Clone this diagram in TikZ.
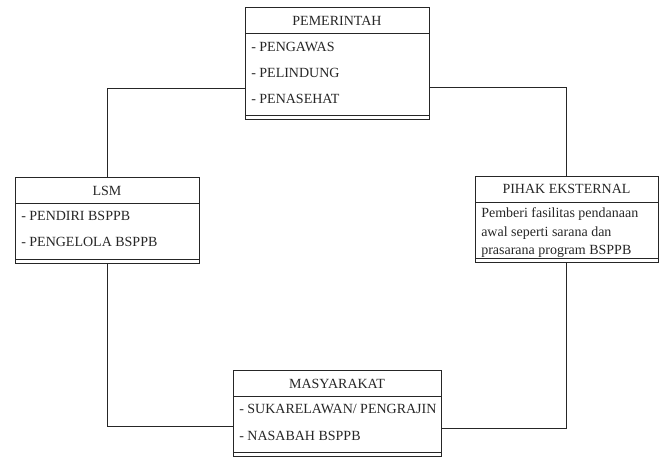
\documentclass[tikz,border=0pt]{standalone}
\usepackage{fontspec}
\setmainfont{Liberation Serif}
\usetikzlibrary{fit}
\begin{document}
\begin{tikzpicture}[x=0.75pt,y=-0.75pt,
  box/.style={draw=black!85, line width=0.7pt, inner sep=0pt},
  sep/.style={draw=black!85, line width=0.7pt},
  conn/.style={draw=black!85, line width=0.7pt},
  title/.style={inner sep=0pt, font=\fontsize{10.5}{11}\selectfont, text=black!85},
  item/.style={inner sep=0pt, anchor=west, font=\fontsize{10.5}{11}\selectfont, text=black!85}]
\useasboundingbox (0,0) rectangle (661,458);
% PEMERINTAH
\node[box, fit={(245,7) (429,119)}] (pem) {};
\draw[sep] (245,33) -- (429,33);
\draw[sep] (245,115) -- (429,115);
\node[title] (pemt) at (337,20.5) {PEMERINTAH};
\node[item] (pem1) at (251,46.5) {- PENGAWAS};
\node[item] (pem2) at (251,72.5) {- PELINDUNG};
\node[item] (pem3) at (251,98.5) {- PENASEHAT};
% LSM
\node[box, fit={(15,177) (199,263)}] (lsm) {};
\draw[sep] (15,203) -- (199,203);
\draw[sep] (15,259) -- (199,259);
\node[title] (lsmt) at (107,190.5) {LSM};
\node[item] (lsm1) at (21,215.5) {- PENDIRI BSPPB};
\node[item] (lsm2) at (21,242) {- PENGELOLA BSPPB};
% PIHAK EKSTERNAL
\node[box, fit={(475,176) (658,262)}] (pih) {};
\draw[sep] (475,202) -- (658,202);
\draw[sep] (475,258) -- (658,258);
\node[title] (piht) at (566.5,189) {PIHAK EKSTERNAL};
\node[inner sep=0pt, anchor=north west, align=left, font=\fontsize{10.5}{14.2}\selectfont, text=black!85] (pihx) at (481,207)
  {Pemberi fasilitas pendanaan\\awal seperti sarana dan\\prasarana program BSPPB};
% MASYARAKAT
\node[box, fit={(233,370) (441,456)}] (mas) {};
\draw[sep] (233,396) -- (441,396);
\draw[sep] (233,452) -- (441,452);
\node[title] (mast) at (337,383.5) {MASYARAKAT};
\node[item] (mas1) at (239,409) {- SUKARELAWAN/ PENGRAJIN};
\node[item] (mas2) at (239,436) {- NASABAH BSPPB};
% connectors
\coordinate (ly) at (0,88);
\coordinate (ry) at (0,87.3);
\coordinate (lb) at (0,426.7);
\coordinate (rb) at (0,428);
\draw[conn] (lsm.north) |- (pem.west |- ly);
\draw[conn] (pih.north) |- (pem.east |- ry);
\draw[conn] (lsm.south) |- (mas.west |- lb);
\draw[conn] (pih.south) |- (mas.east |- rb);
\end{tikzpicture}
\end{document}
